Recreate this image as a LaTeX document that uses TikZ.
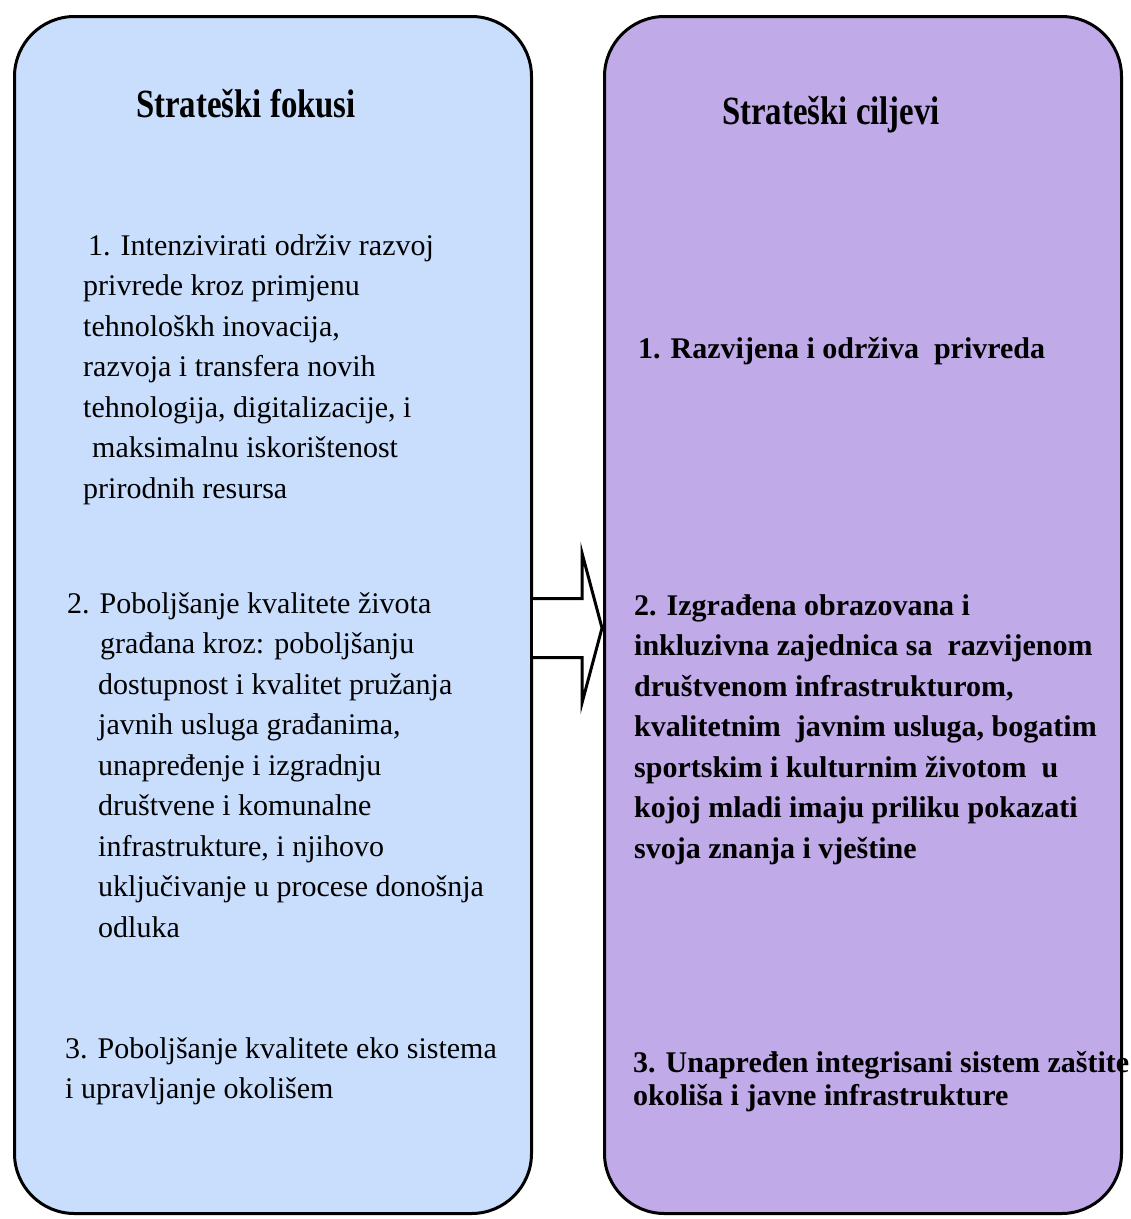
\documentclass[tikz,border=0pt]{standalone}
\usepackage{fontspec}
\setmainfont{Liberation Serif}
\newfontfamily\naslovfont[FakeStretch=0.82]{Liberation Serif}
\usetikzlibrary{positioning}
\definecolor{fokusplava}{RGB}{201,222,252}
\definecolor{ciljlila}{RGB}{192,170,232}

\begin{document}
\begin{tikzpicture}[x=1pt, y=-1pt]
	\tikzset{okvir/.style={draw, line width=3pt, rounded corners=60pt, minimum width=517pt, minimum height=1197pt, inner sep=0pt},
		naslov/.style={font=\naslovfont\bfseries\fontsize{40}{48}\selectfont, inner sep=0pt, anchor=base},
		stavka/.style={align=left, anchor=north west, inner sep=0pt, font=\fontsize{30}{40.5}\selectfont},
		cilj/.style={stavka, font=\bfseries\fontsize{30}{40.5}\selectfont},
		strelica/.style={line width=3pt, fill=white, line join=miter}}
	\useasboundingbox (0,0) rectangle (1131,1219);
	
	\node[okvir, fill=fokusplava] (lbox) at (273,615) {};
	\node[okvir, fill=ciljlila, right=70pt of lbox] (rbox) {};
	
	\node[naslov] (fokusi) at (246,117) {Strateški fokusi};
	\node[naslov] (ciljevi) at (831,124) {Strateški ciljevi};
	
	\node[stavka] (f1) at (83,234) {\hspace*{5pt}1. Intenzivirati održiv razvoj\\
		privrede kroz primjenu\\
		tehnološkh inovacija,\\
		razvoja i transfera novih\\
		tehnologija, digitalizacije, i\\
		\hspace*{9pt}maksimalnu iskorištenost\\
		prirodnih resursa};
	\node[stavka] (f2) at (67,592) {2. Poboljšanje kvalitete života\\
		\hspace*{33pt}građana kroz: poboljšanju\\
		\hspace*{31pt}dostupnost i kvalitet pružanja\\
		\hspace*{31pt}javnih usluga građanima,\\
		\hspace*{31pt}unapređenje i izgradnju\\
		\hspace*{31pt}društvene i komunalne\\
		\hspace*{31pt}infrastrukture, i njihovo\\
		\hspace*{31pt}uključivanje u procese donošnja\\
		\hspace*{31pt}odluka};
	\node[stavka] (f3) at (65,1037) {3. Poboljšanje kvalitete eko sistema\\
		i upravljanje okolišem};
	
	\node[cilj] (c1) at (638,337) {1. Razvijena i održiva\ \ privreda};
	\node[cilj] (c2) at (634,594) {2. Izgrađena obrazovana i\\
		inkluzivna zajednica sa\ \ razvijenom\\
		društvenom infrastrukturom,\\
		kvalitetnim\ \ javnim usluga, bogatim\\
		sportskim i kulturnim životom\ \ u\\
		kojoj mladi imaju priliku pokazati\\
		svoja znanja i vještine};
	\node[cilj, font=\bfseries\fontsize{30}{33}\selectfont] (c3) at (633,1051) {3. Unapređen integrisani sistem zaštite\\
		okoliša i javne infrastrukture};
	
	% hollow arrow between the two boxes
	\coordinate (os) at (0,628);
	\coordinate (vrh) at ([xshift=-1pt]rbox.west |- os);
	\draw[strelica] (lbox.east |- os) ++(0,-29.5) -- ++(49,0) -- ++(0,-45.5) -- (vrh)
		-- ++(-20,75) -- ++(0,-45.5) -- ++(-49,0);
\end{tikzpicture}
\end{document}
